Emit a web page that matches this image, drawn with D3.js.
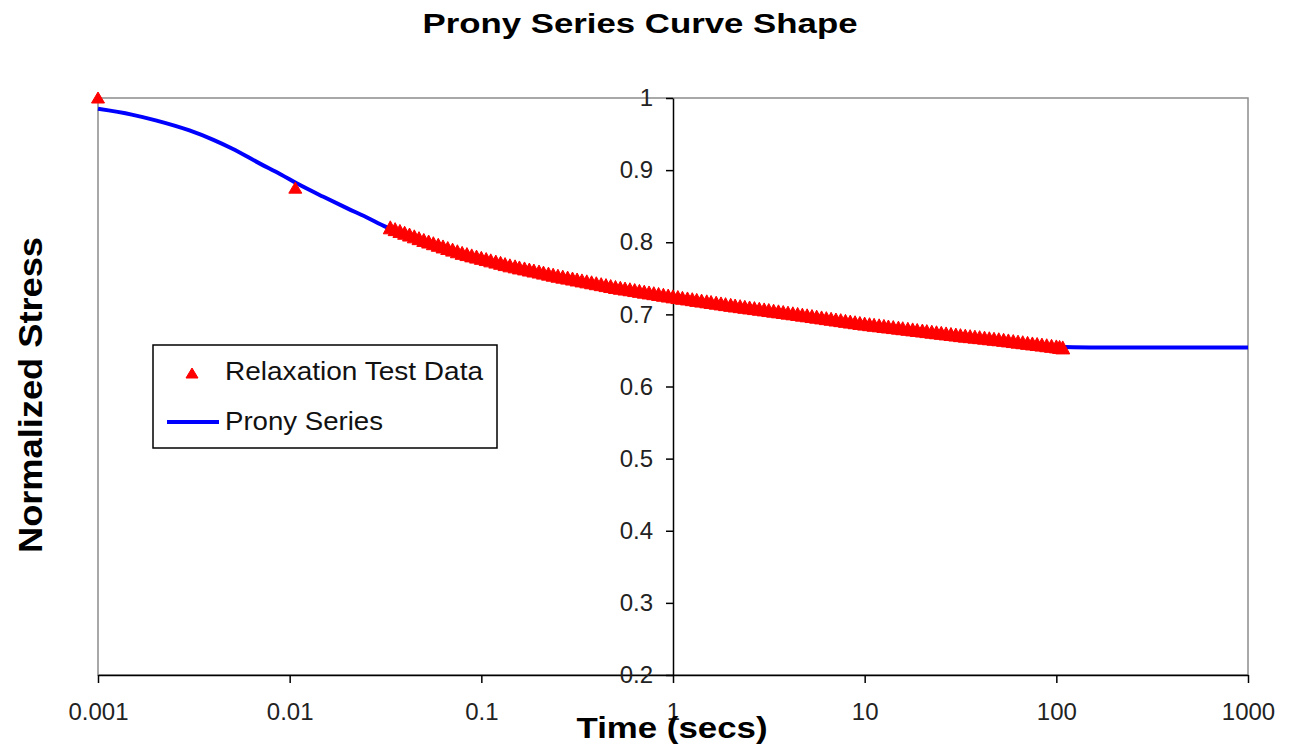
<!DOCTYPE html>
<html lang="en">
<head>
  <meta charset="UTF-8">
  <title>Prony Series Curve Shape</title>
  <script src="https://d3js.org/d3.v7.min.js"></script>
  <style>
    body { margin: 0; background: #fff; }
    svg text { font-family: "Liberation Sans", Arial, sans-serif; }
  </style>
</head>
<body>
  <div id="chart"></div>

  <script>
    // relaxation test data (time in secs, normalized stress)
    const testTimes = [
      0.001, 0.0107,
      0.0335, 0.0355, 0.0376, 0.0398, 0.0422, 0.0447, 0.0473, 0.0501, 0.0531, 0.0562,
      0.0596, 0.0631, 0.0668, 0.0708, 0.075, 0.0794, 0.0841, 0.0891, 0.0944,
      0.1, 0.106, 0.112, 0.119, 0.126, 0.133, 0.141, 0.15, 0.158, 0.168, 0.178, 0.188,
      0.2, 0.211, 0.224, 0.237, 0.251, 0.266, 0.282, 0.299, 0.316, 0.335, 0.355, 0.376,
      0.398, 0.422, 0.447, 0.473, 0.501, 0.531, 0.562, 0.596, 0.631, 0.668, 0.708, 0.75,
      0.794, 0.841, 0.891, 0.944,
      1, 1.06, 1.12, 1.19, 1.26, 1.33, 1.41, 1.5, 1.58, 1.68, 1.78, 1.88,
      2, 2.11, 2.24, 2.37, 2.51, 2.66, 2.82, 2.99, 3.16, 3.35, 3.55, 3.76,
      3.98, 4.22, 4.47, 4.73, 5.01, 5.31, 5.62, 5.96, 6.31, 6.68, 7.08, 7.5,
      7.94, 8.41, 8.91, 9.44,
      10, 10.6, 11.2, 11.9, 12.6, 13.3, 14.1, 15, 15.8, 16.8, 17.8, 18.8,
      20, 21.1, 22.4, 23.7, 25.1, 26.6, 28.2, 29.9, 31.6, 33.5, 35.5, 37.6,
      39.8, 42.2, 44.7, 47.3, 50.1, 53.1, 56.2, 59.6, 63.1, 66.8, 70.8, 75,
      79.4, 84.1, 89.1, 94.4, 100, 104, 108
    ];
    const testStress = [
      1.0, 0.875,
      0.8200, 0.8175, 0.8150, 0.8125, 0.8100, 0.8075, 0.8050, 0.8025, 0.8003, 0.7980,
      0.7958, 0.7935, 0.7913, 0.7891, 0.7868, 0.7846, 0.7829, 0.7811, 0.7794,
      0.7777, 0.7760, 0.7742, 0.7725, 0.7708, 0.7690, 0.7673, 0.7659, 0.7644, 0.7630, 0.7615, 0.7601,
      0.7587, 0.7572, 0.7558, 0.7543, 0.7529, 0.7516, 0.7503, 0.7490, 0.7477, 0.7464, 0.7451, 0.7438,
      0.7425, 0.7412, 0.7399, 0.7386, 0.7373, 0.7362, 0.7351, 0.7341, 0.7330, 0.7319, 0.7308, 0.7297,
      0.7287, 0.7276, 0.7265, 0.7254,
      0.7243, 0.7233, 0.7223, 0.7214, 0.7204, 0.7194, 0.7184, 0.7174, 0.7165, 0.7155, 0.7145, 0.7135,
      0.7125, 0.7116, 0.7107, 0.7098, 0.7089, 0.7080, 0.7071, 0.7062, 0.7053, 0.7044, 0.7035, 0.7026,
      0.7017, 0.7008, 0.6999, 0.6989, 0.6980, 0.6970, 0.6961, 0.6951, 0.6941, 0.6932, 0.6922, 0.6913,
      0.6903, 0.6893, 0.6884, 0.6874,
      0.6865, 0.6857, 0.6849, 0.6841, 0.6833, 0.6825, 0.6817, 0.6809, 0.6801, 0.6793, 0.6785, 0.6777,
      0.6769, 0.6761, 0.6753, 0.6745, 0.6737, 0.6729, 0.6721, 0.6713, 0.6705, 0.6698, 0.6691, 0.6684,
      0.6677, 0.6670, 0.6662, 0.6655, 0.6648, 0.6640, 0.6632, 0.6623, 0.6615, 0.6607, 0.6598, 0.6590,
      0.6582, 0.6574, 0.6565, 0.6557, 0.6549, 0.6542, 0.6535
    ];

    // prony series fit
    const pronyTimes = [
      0.001, 0.0015, 0.002, 0.003, 0.004, 0.005, 0.007, 0.009, 0.011, 0.015, 0.02, 0.025, 0.032,
      0.05, 0.1, 0.2, 0.5, 1, 2, 5, 10, 20, 50, 100, 150, 200, 500, 1000
    ];
    const pronyStress = [
      0.985, 0.977, 0.969, 0.955, 0.942, 0.930, 0.909, 0.894, 0.881, 0.863, 0.847, 0.835, 0.821,
      0.802, 0.777, 0.758, 0.737, 0.724, 0.712, 0.698, 0.686, 0.676, 0.664, 0.655, 0.654, 0.654, 0.654, 0.654
    ];

    const xTicks = [0.001, 0.01, 0.1, 1, 10, 100, 1000];
    const yTicks = [0.2, 0.3, 0.4, 0.5, 0.6, 0.7, 0.8, 0.9, 1];

    const W = 1289, H = 749;
    const plotLeft = 98, plotRight = 1248, plotTop = 98, plotBottom = 675;

    const svg = d3.select("#chart").append("svg")
      .attr("width", W)
      .attr("height", H);

    const x = d3.scaleLog().domain([0.001, 1000]).range([plotLeft, plotRight]);
    const y = d3.scaleLinear().domain([0.2, 1]).range([plotBottom, plotTop]);

    // plot frame (gray)
    svg.append("rect")
      .attr("x", plotLeft).attr("y", plotTop)
      .attr("width", plotRight - plotLeft).attr("height", plotBottom - plotTop)
      .attr("fill", "none")
      .attr("stroke", "#8c8c8c")
      .attr("stroke-width", 1.5);

    // x axis
    const xAxis = svg.append("g")
      .attr("transform", "translate(0," + plotBottom + ")")
      .call(d3.axisBottom(x)
        .tickValues(xTicks)
        .tickFormat(d => String(d))
        .tickSizeInner(8)
        .tickSizeOuter(0)
        .tickPadding(20));
    xAxis.select(".domain").attr("stroke", "#000").attr("stroke-width", 1.5);
    xAxis.selectAll(".tick line").attr("stroke", "#000").attr("stroke-width", 1.5);
    xAxis.selectAll(".tick text")
      .attr("font-size", 24)
      .attr("fill", "#222")
      .style("font-family", "'Liberation Sans', Arial, sans-serif");

    // y axis crosses at t = 1
    const yAxis = svg.append("g")
      .attr("transform", "translate(" + x(1) + ",0)")
      .call(d3.axisLeft(y)
        .tickValues(yTicks)
        .tickFormat(d => d === 1 ? "1" : d.toFixed(1))
        .tickSizeInner(7)
        .tickSizeOuter(0)
        .tickPadding(13));
    yAxis.select(".domain").attr("stroke", "#000").attr("stroke-width", 1.5);
    yAxis.selectAll(".tick line").attr("stroke", "#000").attr("stroke-width", 1.5);
    yAxis.selectAll(".tick text")
      .attr("font-size", 24)
      .attr("fill", "#222")
      .style("font-family", "'Liberation Sans', Arial, sans-serif");

    // prony series line
    const pronyData = pronyTimes.map((t, i) => ({ t: t, v: pronyStress[i] }));
    const line = d3.line()
      .x(d => x(d.t))
      .y(d => y(d.v))
      .curve(d3.curveMonotoneX);

    svg.append("path")
      .datum(pronyData)
      .attr("d", line)
      .attr("fill", "none")
      .attr("stroke", "#0000ff")
      .attr("stroke-width", 4);

    // test data triangles
    const tri = "M0,-7L7,6L-7,6Z";
    const testData = testTimes.map((t, i) => ({ t: t, v: testStress[i] }));
    svg.append("g").selectAll("path")
      .data(testData)
      .enter().append("path")
        .attr("d", (d, i) => i < 2 ? "M0,-6L6.5,5L-6.5,5Z" : tri)
        .attr("transform", d => "translate(" + x(d.t) + "," + y(d.v) + ")")
        .attr("fill", "#ff0000")
        .attr("stroke", "#ff0000")
        .attr("stroke-width", 1);

    // title
    svg.append("text")
      .attr("x", 640)
      .attr("y", 33)
      .attr("text-anchor", "middle")
      .attr("font-size", 28)
      .attr("font-weight", "bold")
      .attr("textLength", 435)
      .attr("lengthAdjust", "spacingAndGlyphs")
      .text("Prony Series Curve Shape");

    // x label
    svg.append("text")
      .attr("x", 672)
      .attr("y", 738)
      .attr("text-anchor", "middle")
      .attr("font-size", 30)
      .attr("font-weight", "bold")
      .attr("textLength", 191)
      .attr("lengthAdjust", "spacingAndGlyphs")
      .text("Time (secs)");

    // y label
    svg.append("text")
      .attr("transform", "translate(42,395) rotate(-90)")
      .attr("text-anchor", "middle")
      .attr("font-size", 33)
      .attr("font-weight", "bold")
      .attr("textLength", 316)
      .attr("lengthAdjust", "spacingAndGlyphs")
      .text("Normalized Stress");

    // legend
    const legend = svg.append("g");
    legend.append("rect")
      .attr("x", 153).attr("y", 345)
      .attr("width", 344).attr("height", 103)
      .attr("fill", "#fff")
      .attr("stroke", "#000")
      .attr("stroke-width", 1.5);
    legend.append("path")
      .attr("d", "M0,-5L6,5L-6,5Z")
      .attr("transform", "translate(192,373)")
      .attr("fill", "#ff0000")
      .attr("stroke", "#ff0000");
    legend.append("text")
      .attr("x", 225).attr("y", 380)
      .attr("font-size", 26)
      .attr("fill", "#111")
      .attr("textLength", 258)
      .attr("lengthAdjust", "spacingAndGlyphs")
      .text("Relaxation Test Data");
    legend.append("line")
      .attr("x1", 167).attr("x2", 219)
      .attr("y1", 422).attr("y2", 422)
      .attr("stroke", "#0000ff")
      .attr("stroke-width", 4);
    legend.append("text")
      .attr("x", 225).attr("y", 430)
      .attr("font-size", 26)
      .attr("fill", "#111")
      .attr("textLength", 158)
      .attr("lengthAdjust", "spacingAndGlyphs")
      .text("Prony Series");
  </script>
</body>
</html>
